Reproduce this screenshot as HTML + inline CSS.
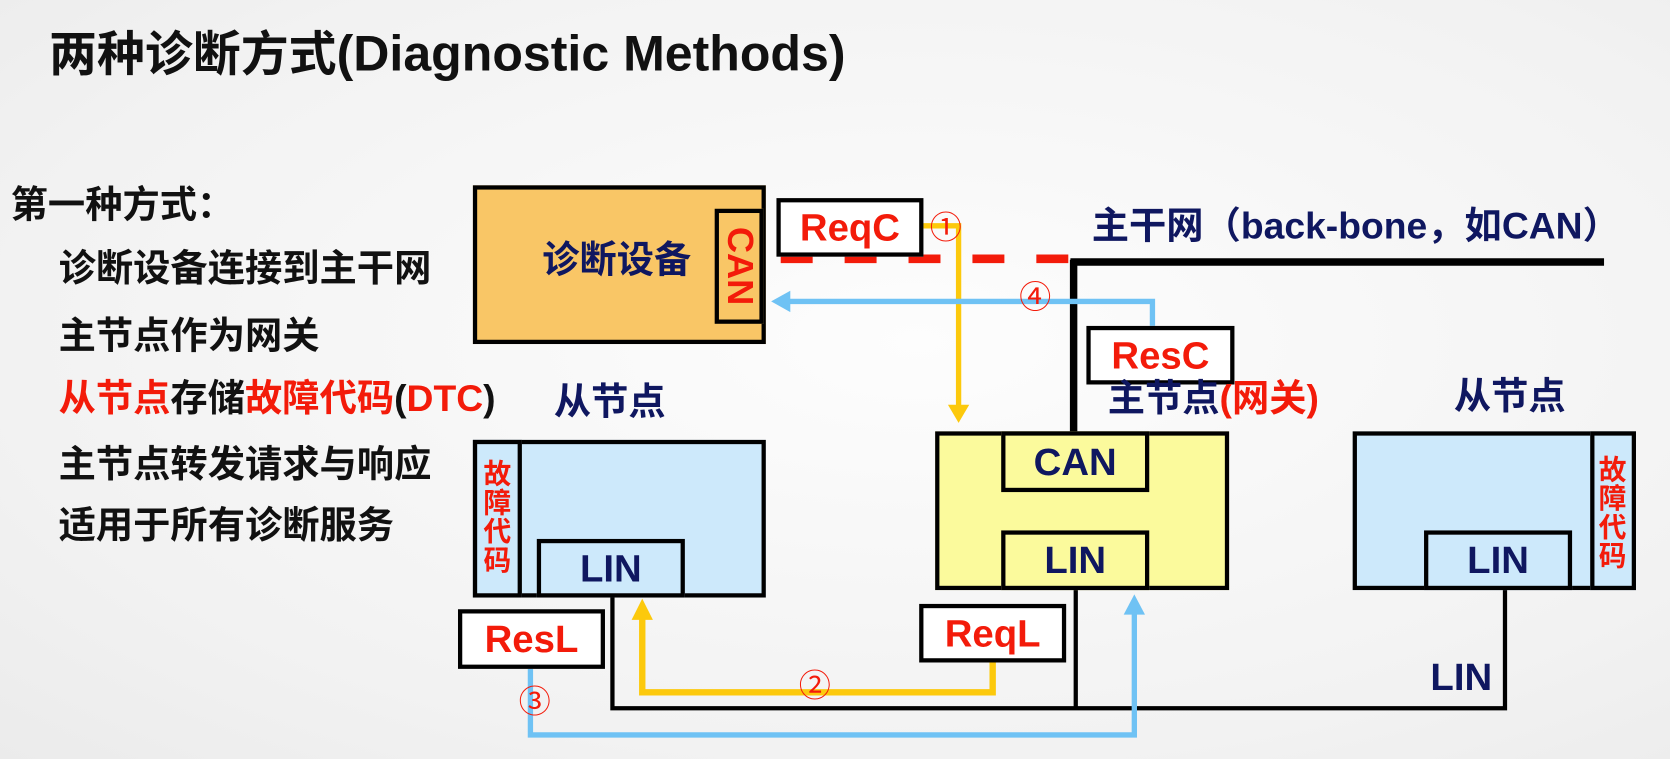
<!DOCTYPE html>
<html><head><meta charset="utf-8"><style>
body{margin:0;}
#c{position:relative;width:1670px;height:759px;overflow:hidden;background:radial-gradient(ellipse at 55% 45%,#fdfdfd 0%,#f2f2f2 70%,#ebebeb 100%);font-family:"Liberation Sans","Noto Sans CJK SC",sans-serif;font-weight:bold;}
#s{position:absolute;left:0;top:0;width:1568px;height:713px;transform:scale(1.0651);transform-origin:0 0;}
.a{position:absolute;white-space:nowrap;}
.box{position:absolute;box-sizing:border-box;border:4px solid #000;}
.red{color:#f31b0a;}
.navy{color:#0f1760;}
.ctr{display:flex;align-items:center;justify-content:center;}
.t{font-size:35px;line-height:40px;color:#111;}
.n{position:absolute;width:30px;height:30px;line-height:30px;text-align:center;font-size:30px;font-weight:normal;color:#f31b0a;}
.lb{font-size:36px;}
.fz{font-size:26px;line-height:27px;white-space:normal;text-align:center;}
</style></head><body><div id="c"><div id="s">
<div class="a" style="left:46px;top:22px;font-size:45px;line-height:56px;color:#111;">两种诊断方式<span style="font-size:47px">(Diagnostic Methods)</span></div>
<div class="a t" style="left:10px;top:173px;">第一种方式：</div>
<div class="a t" style="left:55px;top:233px;">诊断设备连接到主干网</div>
<div class="a t" style="left:55px;top:296px;">主节点作为网关</div>
<div class="a t" style="left:55px;top:355px;"><span class="red">从节点</span>存储<span class="red">故障代码</span>(<span class="red">DTC</span>)</div>
<div class="a t" style="left:55px;top:417px;">主节点转发请求与响应</div>
<div class="a t" style="left:55px;top:474px;">适用于所有诊断服务</div>

<svg class="a" style="left:0;top:0" width="1568" height="713">
<line x1="718" y1="243" x2="1008" y2="243" stroke="#f31b0a" stroke-width="8" stroke-dasharray="30,30" stroke-dashoffset="-15"/>
<line x1="1005" y1="246" x2="1506" y2="246" stroke="#000" stroke-width="7"/>
<line x1="1008" y1="244" x2="1008" y2="408" stroke="#000" stroke-width="7"/>
<polyline points="575,558 575,665 1413,665 1413,553" fill="none" stroke="#000" stroke-width="4"/>
<line x1="1010" y1="553" x2="1010" y2="665" stroke="#000" stroke-width="4"/>
<polyline points="866,212 900,212 900,382" fill="none" stroke="#fcc90c" stroke-width="5"/>
<polygon points="890,380 910,380 900,397" fill="#fcc90c"/>
<polyline points="932,622 932,650 603,650 603,580" fill="none" stroke="#fcc90c" stroke-width="6"/>
<polygon points="593,582 613,582 603,562" fill="#fcc90c"/>
<polyline points="1082,306 1082,283 740,283" fill="none" stroke="#6fc2f4" stroke-width="5"/>
<polygon points="742,273 742,293 724,283" fill="#6fc2f4"/>
<polyline points="498,627 498,690 1065,690 1065,575" fill="none" stroke="#6fc2f4" stroke-width="5"/>
<polygon points="1055,577 1075,577 1065,558" fill="#6fc2f4"/>
</svg>

<div class="box" style="left:444px;top:174px;width:275px;height:149px;background:#f9c666;"></div>
<div class="a navy" style="left:509px;top:225px;font-size:35px;line-height:40px;">诊断设备</div>
<div class="box" style="left:671px;top:196px;width:46px;height:108px;background:#f9c666;"></div>
<div class="a red" style="left:675px;top:202px;width:38px;height:96px;font-size:34px;writing-mode:vertical-rl;display:flex;align-items:center;justify-content:center;">CAN</div>
<div class="box ctr red lb" style="left:729px;top:186px;width:138px;height:55px;background:#fff;">ReqC</div>
<div class="n" style="left:873px;top:200px;">①</div>
<div class="n" style="left:957px;top:265px;">④</div>
<div class="a navy" style="left:1025px;top:193px;font-size:35px;line-height:40px;">主干网（back-bone，如CAN）</div>
<div class="box ctr red lb" style="left:1020px;top:306px;width:139px;height:55px;background:#fff;">ResC</div>
<div class="a navy" style="left:1040px;top:355px;font-size:35px;line-height:40px;">主节点<span class="red">(网关)</span></div>
<div class="a navy" style="left:520px;top:358px;font-size:35px;line-height:40px;">从节点</div>
<div class="a navy" style="left:1365px;top:353px;font-size:35px;line-height:40px;">从节点</div>

<div class="box" style="left:878px;top:405px;width:276px;height:149px;background:#fbfa9c;"></div>
<div class="box ctr navy lb" style="left:940px;top:405px;width:139px;height:57px;background:#fbfa9c;">CAN</div>
<div class="box ctr navy lb" style="left:940px;top:498px;width:139px;height:56px;background:#fbfa9c;">LIN</div>

<div class="box" style="left:444px;top:413px;width:275px;height:148px;background:#cde9fb;"></div>
<div class="box" style="left:444px;top:413px;width:46px;height:148px;background:#cde9fb;"></div>
<div class="a red ctr fz" style="left:449px;top:432px;width:36px;">故<br>障<br>代<br>码</div>
<div class="box ctr navy lb" style="left:504px;top:506px;width:139px;height:55px;background:#cde9fb;">LIN</div>

<div class="box" style="left:1270px;top:405px;width:266px;height:149px;background:#cde9fb;"></div>
<div class="box" style="left:1493px;top:405px;width:43px;height:149px;background:#cde9fb;"></div>
<div class="a red ctr fz" style="left:1496px;top:428px;width:36px;">故<br>障<br>代<br>码</div>
<div class="box ctr navy lb" style="left:1337px;top:498px;width:139px;height:56px;background:#cde9fb;">LIN</div>

<div class="box ctr red lb" style="left:430px;top:572px;width:138px;height:56px;background:#fff;">ResL</div>
<div class="box ctr red lb" style="left:863px;top:567px;width:138px;height:55px;background:#fff;">ReqL</div>
<div class="n" style="left:750px;top:630px;">②</div>
<div class="n" style="left:487px;top:645px;">③</div>
<div class="a navy lb" style="left:1343px;top:615px;">LIN</div>
<div class="a" style="left:1425px;top:714px;font-size:14px;font-weight:normal;color:#888;">CSDN @Zaya.510</div>
</div></div></body></html>
